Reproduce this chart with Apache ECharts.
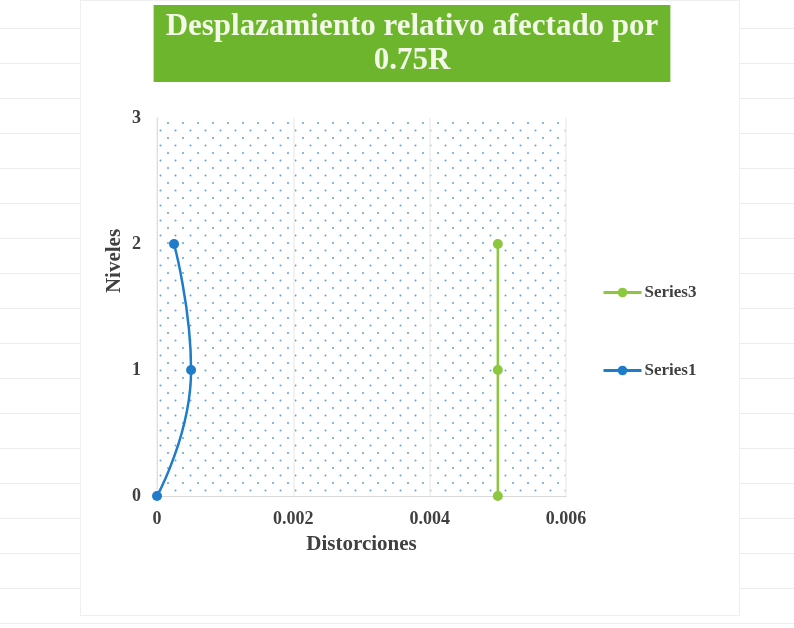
<!DOCTYPE html>
<html>
<head>
<meta charset="utf-8">
<script src="https://cdn.jsdelivr.net/npm/echarts@6/dist/echarts.min.js"></script>
<style>
  html, body { margin: 0; padding: 0; background: #ffffff; }
  #sheet {
    position: absolute; left: 0; top: 0; width: 794px; height: 628px;
    background: repeating-linear-gradient(to bottom, transparent 0px, transparent 28px, #ececec 28px, #ececec 29px, transparent 29px, transparent 35px);
  }
  #frame {
    position: absolute; left: 80px; top: 0px; width: 658px; height: 614px;
    background: #ffffff; border: 1px solid #efefef;
  }
  #chart { position: absolute; left: 0; top: 0; width: 794px; height: 628px; }
</style>
</head>
<body>
<div id="sheet"></div>
<div id="frame"></div>
<div id="chart"></div>
<script>
// ---- data ----
const titleText = 'Desplazamiento relativo afectado por\n0.75R';
const xAxisName = 'Distorciones';
const yAxisName = 'Niveles';
const levels = [0, 1, 2];
const series1X = [0, 0.0005, 0.00025];
const series3X = [0.005, 0.005, 0.005];
const seriesNames = ['Series1', 'Series3'];
const legendOrder = ['Series3', 'Series1'];

// ---- dotted pattern for plot area ----
function makeDots() {
  const c = document.createElement('canvas');
  c.width = 15; c.height = 15;
  const ctx = c.getContext('2d');
  ctx.fillStyle = '#ffffff';
  ctx.fillRect(0, 0, 15, 15);
  ctx.fillStyle = 'rgba(60,135,210,0.8)';
  ctx.beginPath(); ctx.arc(3, 3, 1.0, 0, Math.PI * 2); ctx.fill();
  ctx.beginPath(); ctx.arc(10.5, 10.5, 1.0, 0, Math.PI * 2); ctx.fill();
  return c;
}

const serif = '"Liberation Serif", "Times New Roman", serif';
const chart = echarts.init(document.getElementById('chart'), null, { renderer: 'canvas' });

const option = {
  backgroundColor: 'transparent',
  animation: false,
  title: {
    text: titleText,
    left: 400,
    top: 5,
    textAlign: 'center',
    backgroundColor: '#6cb52d',
    padding: [5, 12, 4, 12],
    textStyle: {
      fontFamily: serif,
      fontWeight: 'bold',
      fontSize: 31,
      lineHeight: 34,
      color: '#f3f8e8'
    }
  },
  grid: {
    left: 157, right: 228, top: 118, bottom: 132,
    show: true,
    borderWidth: 0,
    backgroundColor: { image: makeDots(), repeat: 'repeat' }
  },
  legend: {
    orient: 'vertical',
    left: 602,
    top: 284,
    padding: 0,
    itemWidth: 38,
    itemHeight: 12,
    itemGap: 61,
    data: legendOrder,
    lineStyle: { width: 3 },
    textStyle: { fontFamily: serif, fontWeight: 'bold', fontSize: 17, color: '#404040', padding: [0, 0, 0, -2] }
  },
  xAxis: {
    type: 'value',
    min: 0, max: 0.006, interval: 0.002,
    name: xAxisName,
    nameLocation: 'middle',
    nameGap: 38,
    nameTextStyle: { fontFamily: serif, fontWeight: 'bold', fontSize: 21, color: '#404040' },
    axisLine: { show: true, lineStyle: { color: '#d9d9d9', width: 1 } },
    axisTick: { show: false },
    axisLabel: {
      fontFamily: serif, fontWeight: 'bold', fontSize: 18, color: '#404040', margin: 14,
      formatter: v => (v === 0 ? '0' : v.toFixed(3))
    },
    splitLine: { show: true, lineStyle: { color: '#eeeeee', width: 1.5 } }
  },
  yAxis: {
    type: 'value',
    min: 0, max: 3, interval: 1,
    name: yAxisName,
    nameLocation: 'middle',
    nameGap: 32,
    nameMoveOverlap: false,
    nameTextStyle: { fontFamily: serif, fontWeight: 'bold', fontSize: 21, color: '#404040', padding: [0, 0, 0, 92] },
    axisLine: { show: true, lineStyle: { color: '#e0e0e0', width: 1 } },
    axisTick: { show: false },
    axisLabel: { fontFamily: serif, fontWeight: 'bold', fontSize: 18, color: '#404040', margin: 16 },
    splitLine: { show: false }
  },
  series: [
    {
      name: seriesNames[0],
      type: 'line',
      smooth: true,
      data: levels.map((y, i) => [series1X[i], y]),
      symbol: 'circle',
      symbolSize: 10,
      itemStyle: { color: '#1f7cc9' },
      lineStyle: { color: '#1f7cc9', width: 2.5 },
      z: 3
    },
    {
      name: seriesNames[1],
      type: 'line',
      data: levels.map((y, i) => [series3X[i], y]),
      symbol: 'circle',
      symbolSize: 10,
      itemStyle: { color: '#8dc63f' },
      lineStyle: { color: '#8dc63f', width: 2.5 },
      z: 2
    }
  ]
};
chart.setOption(option);
</script>
</body>
</html>
